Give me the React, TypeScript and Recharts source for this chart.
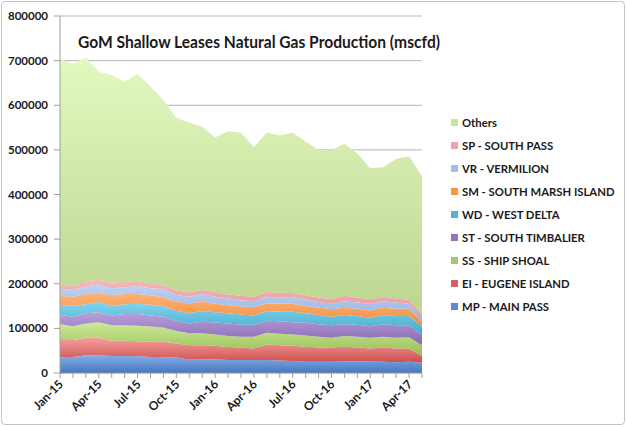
import React from 'react';
import { AreaChart, Area, XAxis, YAxis, CartesianGrid, Legend } from 'recharts';

const months = [
  'Jan-15','Feb-15','Mar-15','Apr-15','May-15','Jun-15','Jul-15','Aug-15','Sep-15','Oct-15','Nov-15','Dec-15',
  'Jan-16','Feb-16','Mar-16','Apr-16','May-16','Jun-16','Jul-16','Aug-16','Sep-16','Oct-16','Nov-16','Dec-16',
  'Jan-17','Feb-17','Mar-17','Apr-17','May-17',
];

const mp = [36,36,40,40,38,38,38,36,36,35,30,30,31,29,29,29,29,28,27,25,25,25,26,26,26,25,24,25,23];
const ei = [38,38,39,39,34,34,33,34,34,31,32,32,30,29,28,26,35,34,34,34,32,32,33,31,29,32,31,30,15];
const ss = [36,31,32,35,35,35,35,34,32,28,27,27,25,25,24,26,26,26,25,25,24,22,24,24,24,24,24,25,24];
const st = [20,21,23,22,22,25,26,25,24,23,22,26,27,28,27,27,27,28,28,29,28,28,26,27,26,28,28,27,23];
const wd = [23,24,20,23,21,22,23,24,24,22,23,24,23,23,23,21,22,21,23,21,21,19,21,20,19,21,21,21,19];
const sm = [20,21,23,21,24,23,22,21,20,21,22,21,19,18,18,19,17,18,18,16,16,17,16,16,16,16,16,16,11];
const vr = [15,15,17,19,16,15,18,16,18,15,15,17,16,15,14,13,15,15,15,15,13,12,15,14,15,14,14,11,8];
const sp = [11,9,11,10,13,12,12,10,10,10,10,9,11,9,10,10,11,10,9,9,10,10,12,11,10,11,9,9,7];
const others = [505,498,502,466,465,449,463,442,414,387,380,366,346,366,366,335,357,352,360,345,330,335,341,323,294,290,313,321,311];

const yTicks = [0, 100000, 200000, 300000, 400000, 500000, 600000, 700000, 800000];

const series = [
  { key: 'mp', name: 'MP - MAIN PASS', values: mp, top: '#86aee6', bottom: '#4677c0', legend: '#5b8bd0' },
  { key: 'ei', name: 'EI - EUGENE ISLAND', values: ei, top: '#f5a0a0', bottom: '#cc4f4c', legend: '#d9605c' },
  { key: 'ss', name: 'SS - SHIP SHOAL', values: ss, top: '#cdea98', bottom: '#97bd55', legend: '#a6c865' },
  { key: 'st', name: 'ST - SOUTH TIMBALIER', values: st, top: '#b9a0da', bottom: '#8668b3', legend: '#9277bd' },
  { key: 'wd', name: 'WD - WEST DELTA', values: wd, top: '#84d4ec', bottom: '#41a8cd', legend: '#52b5d8' },
  { key: 'sm', name: 'SM - SOUTH MARSH ISLAND', values: sm, top: '#fdb477', bottom: '#f38d3c', legend: '#f79646' },
  { key: 'vr', name: 'VR - VERMILION', values: vr, top: '#bfd2f4', bottom: '#97b1e3', legend: '#a5bdea' },
  { key: 'sp', name: 'SP - SOUTH PASS', values: sp, top: '#f5b8b8', bottom: '#e29797', legend: '#eba4a4' },
  { key: 'others', name: 'Others', values: others, top: '#e3f8c0', bottom: '#bcd690', legend: '#c8e3a0' },
];

const data = months.map((m, i) => {
  const row: any = { month: m };
  series.forEach((s) => { row[s.key] = s.values[i] * 1000; });
  return row;
});

const FONT = 'Lato, "Open Sans", sans-serif';

const XTick = (props: any) => {
  const { x, y, payload } = props;
  const idx = months.indexOf(payload.value);
  if (idx % 3 !== 0) return null;
  const ax = x + 4;
  const ay = y + 7;
  return (
    <text x={ax} y={ay} transform={`rotate(-45 ${ax} ${ay})`} textAnchor="end"
      fontFamily={FONT} fontWeight={700} fontSize={12} fill="#1a1a1a">
      {payload.value}
    </text>
  );
};

const LegendContent = () => {
  const items = [...series].reverse();
  return (
    <div style={{ fontFamily: FONT, fontWeight: 700, fontSize: 11.3, color: '#1a1a1a' }}>
      {items.map((s) => (
        <div key={s.key} style={{ height: 22.9, display: 'flex', alignItems: 'center', whiteSpace: 'nowrap' }}>
          <span style={{ display: 'inline-block', width: 7, height: 7, background: s.legend, marginRight: 4 }} />
          <span>{s.name}</span>
        </div>
      ))}
    </div>
  );
};

export default function App() {
  return (
    <div style={{ position: 'absolute', left: 0, top: 0, width: 627, height: 427, background: '#fff' }}>
      <div style={{ position: 'absolute', left: 1, top: 1, width: 622, height: 422, border: '1px solid #c4c4c4', borderRadius: 4 }} />
      <AreaChart width={627} height={427} data={data} margin={{ top: 16, right: 205, bottom: 0, left: 0 }}>
        <defs>
          {series.map((s) => (
            <linearGradient key={s.key} id={`g-${s.key}`} x1="0" y1="0" x2="0" y2="1">
              <stop offset="0%" stopColor={s.top} />
              <stop offset="100%" stopColor={s.bottom} />
            </linearGradient>
          ))}
        </defs>
        <CartesianGrid vertical={false} stroke="#b5b5b5" />
        <XAxis dataKey="month" interval={0} height={54} tickSize={5} tickMargin={0}
          stroke="#9e9e9e" tick={<XTick />} />
        <YAxis width={60} domain={[0, 800000]} ticks={yTicks} interval={0} tickSize={6} tickMargin={6}
          stroke="#9e9e9e" tick={{ fontFamily: FONT, fontWeight: 700, fontSize: 11.5, fill: '#1a1a1a' }} />
        {series.map((s) => (
          <Area key={s.key} type="linear" dataKey={s.key} name={s.name} stackId="1"
            stroke="none" fill={`url(#g-${s.key})`} fillOpacity={1} isAnimationActive={false} />
        ))}
        <Legend layout="vertical" align="center" verticalAlign="middle" content={<LegendContent />}
          wrapperStyle={{ left: 451, top: 111.5, width: 175 }} />
      </AreaChart>
      <svg width={627} height={427} style={{ position: 'absolute', left: 0, top: 0, pointerEvents: 'none' }}>
        <text x={78} y={48} fontFamily={FONT} fontWeight={700} fontSize={17} fill="#1a1a1a"
          textLength={362} lengthAdjust="spacingAndGlyphs">
          GoM Shallow Leases Natural Gas Production (mscfd)
        </text>
      </svg>
    </div>
  );
}
